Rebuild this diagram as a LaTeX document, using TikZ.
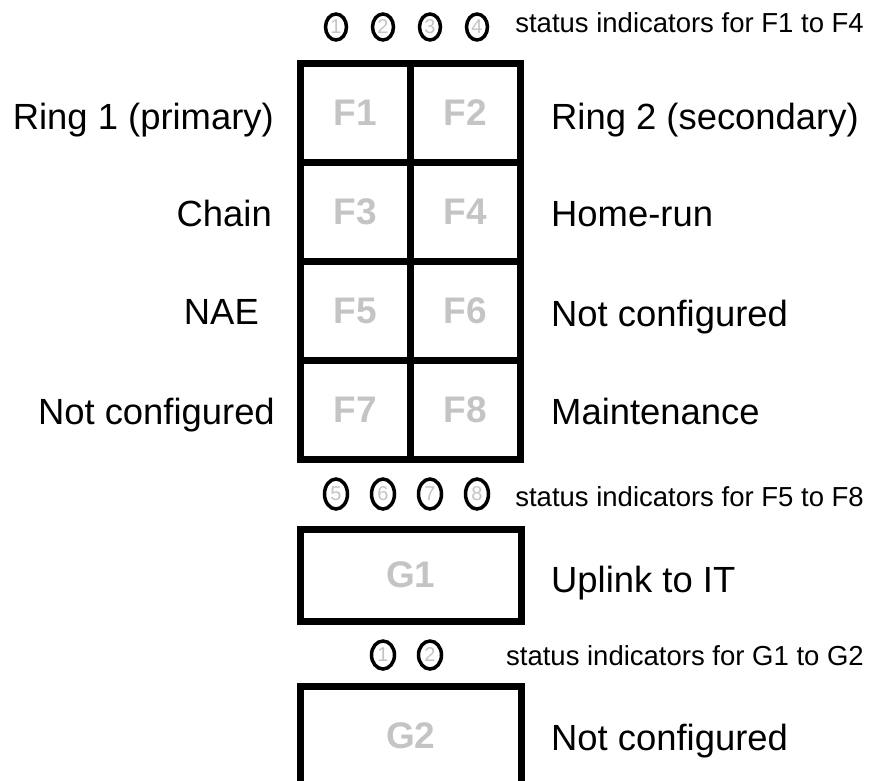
\documentclass[tikz,border=0pt]{standalone}
\usepackage{fontspec}
\setmainfont{Liberation Sans}
\usetikzlibrary{shapes.geometric}
\definecolor{portgray}{HTML}{C4C4C4}
\tikzset{
  cellbox/.style={draw=black, line width=7pt, rectangle, inner sep=0pt, outer sep=0pt,
    minimum width=110pt, minimum height=99pt, text=portgray,
    font=\fontsize{37}{37}\selectfont\bfseries},
  widebox/.style={cellbox, minimum width=220.5pt},
  ledbox/.style={draw=black, line width=3.5pt, ellipse, inner sep=0pt,
    minimum width=21pt, minimum height=26pt, text=portgray,
    font=\fontsize{20}{20}\selectfont},
  biglabel/.style={inner sep=0pt, font=\fontsize{36.4}{40}\selectfont},
  smalllabel/.style={inner sep=0pt, font=\fontsize{27.5}{30}\selectfont}
}
\begin{document}
\begin{tikzpicture}[x=1pt,y=-1pt]
\useasboundingbox (0,0) rectangle (878,780);
\clip (0,0) rectangle (878,780);
% status indicators F1-F4
\node[ledbox] (l1) at (336,27) {1};
\node[ledbox] (l2) at (383,27) {2};
\node[ledbox] (l3) at (430,27) {3};
\node[ledbox] (l4) at (477,27) {4};
\node[smalllabel, anchor=base east] (s1) at (864,32) {status indicators for F1 to F4};
% F grid
\node[cellbox] (F1) at (355.5,112.5) {F1};
\node[cellbox] (F2) at (465.5,112.5) {F2};
\node[cellbox] (F3) at (355.5,211.5) {F3};
\node[cellbox] (F4) at (465.5,211.5) {F4};
\node[cellbox] (F5) at (355.5,310.5) {F5};
\node[cellbox] (F6) at (465.5,310.5) {F6};
\node[cellbox] (F7) at (355.5,409.5) {F7};
\node[cellbox] (F8) at (465.5,409.5) {F8};
% left labels
\node[biglabel, anchor=base east] (r1) at (274,129) {Ring 1 (primary)};
\node[biglabel, anchor=base east] (ch) at (272,226) {Chain};
\node[biglabel, anchor=base east] (nae) at (259,324) {NAE};
\node[biglabel, anchor=base east] (nc1) at (275,424) {Not configured};
% right labels
\node[biglabel, anchor=base west] (r2) at (551,129) {Ring 2 (secondary)};
\node[biglabel, anchor=base west] (hr) at (551,226) {Home-run};
\node[biglabel, anchor=base west] (nc2) at (551,326) {Not configured};
\node[biglabel, anchor=base west] (mt) at (551,424) {Maintenance};
% status indicators F5-F8
\node[ledbox, minimum height=30pt, minimum width=23pt] (l5) at (336,494) {5};
\node[ledbox, minimum height=30pt, minimum width=23pt] (l6) at (383,494) {6};
\node[ledbox, minimum height=30pt, minimum width=23pt] (l7) at (430,494) {7};
\node[ledbox, minimum height=30pt, minimum width=23pt] (l8) at (477,494) {8};
\node[smalllabel, anchor=base east] (s2) at (864,506) {status indicators for F5 to F8};
% G1
\node[widebox, minimum height=92pt] (G1) at (410.75,575) {G1};
\node[biglabel, anchor=base west] (up) at (551,592) {Uplink to IT};
% status indicators G1-G2
\node[ledbox, minimum height=28pt, minimum width=23pt] (g1) at (383,655) {1};
\node[ledbox, minimum height=28pt, minimum width=23pt] (g2) at (430,655) {2};
\node[smalllabel, anchor=base east] (s3) at (864,665) {status indicators for G1 to G2};
% G2
\node[widebox, minimum height=100pt] (G2) at (410.75,736) {G2};
\node[biglabel, anchor=base west] (nc3) at (551,750) {Not configured};
\end{tikzpicture}
\end{document}
